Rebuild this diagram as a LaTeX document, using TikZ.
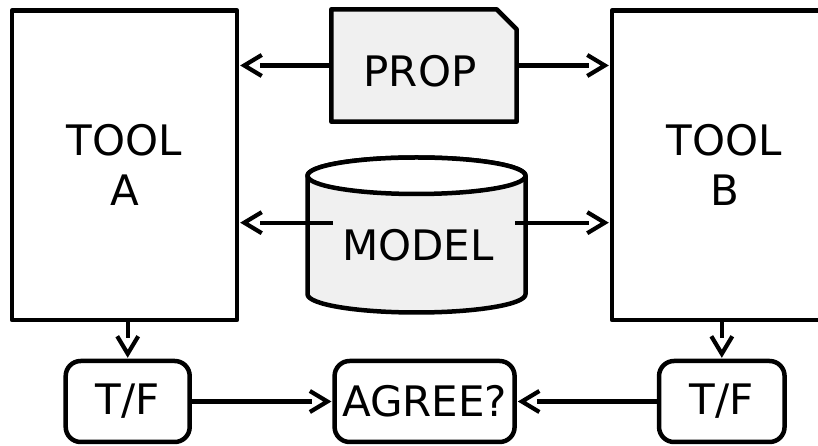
\documentclass[tikz,border=0pt]{standalone}
\usepackage{fontspec}
\setmainfont{DejaVu Sans}
\usetikzlibrary{arrows.meta}
\definecolor{lightfill}{RGB}{240,240,240}

% open V head whose shaft stops at the back of the V
\pgfdeclarearrow{
  name=OpenVee,
  parameters={},
  setup code={
    \pgfarrowssettipend{0pt}
    \pgfarrowssetlineend{-19pt}
    \pgfarrowssetbackend{-21pt}
    \pgfarrowshullpoint{0pt}{0pt}
    \pgfarrowshullpoint{-21pt}{11pt}
    \pgfarrowshullpoint{-21pt}{-11pt}
  },
  drawing code={
    \pgfsetdash{}{0pt}
    \pgfsetbuttcap
    \pgfsetmiterjoin
    \pgfpathmoveto{\pgfpoint{-21pt}{10.5pt}}
    \pgfpathlineto{\pgfpoint{-3.5pt}{0pt}}
    \pgfpathlineto{\pgfpoint{-21pt}{-10.5pt}}
    \pgfusepathqstroke
  }
}

\begin{document}
\begin{tikzpicture}[x=1pt,y=1pt,
  every node/.style={font=\fontsize{42}{50}\selectfont, inner sep=0pt},
  outline/.style={line width=4.5pt, line join=round},
  toolbox/.style={outline, draw, rectangle, minimum width=225pt, minimum height=309.5pt, align=center},
  flagbox/.style={outline, draw, rectangle, rounded corners=15pt, minimum height=81pt},
  link/.style={line width=4.2pt, -{OpenVee}}]
\useasboundingbox (0,0) rectangle (818,446);
\clip (0,0) rectangle (818,446);

% the two tools
\node[toolbox] (toolA) at (124.5,280.75) {TOOL\\A};
\node[toolbox] (toolB) at (724.5,280.75) {TOOL\\B};

% property document with folded corner
\node[minimum width=185pt, minimum height=112pt] (prop) at (424,380.5) {};
\filldraw[outline, fill=lightfill]
  (prop.south west) -- (prop.north west) -- ([xshift=-20pt]prop.north east)
  -- ([yshift=-20pt]prop.north east) -- (prop.south east) -- cycle;
\node (proplabel) at (420,375) {PROP};

% model database
\filldraw[outline, fill=lightfill]
  (307.5,270.25) -- (307.5,151.75)
  arc[start angle=180, end angle=360, x radius=109, y radius=18.25]
  -- (525.5,270.25)
  arc[start angle=0, end angle=180, x radius=109, y radius=18.25] -- cycle;
\filldraw[outline, fill=white] (416.5,270.25) ellipse[x radius=109, y radius=18.25];
\node (model) at (418,200.3) {MODEL};
\coordinate (modelL) at (333,223.3);
\coordinate (modelR) at (515,223.3);

% verdicts
\node[flagbox, minimum width=124pt] (tf1) at (127.7,44.5) {T/F};
\node[flagbox, minimum width=180pt] (agree) at (424.6,44.5) {AGREE?};
\node[flagbox, minimum width=125.5pt] (tf2) at (721.8,44.5) {T/F};

% connectors
\draw[link] (prop.west) -- ([xshift=1.5pt]prop.west -| toolA.east);
\draw[link] (prop.east) -- ([xshift=-1.5pt]prop.east -| toolB.west);
\draw[link] (modelL) -- ([xshift=1.5pt]modelL -| toolA.east);
\draw[link] (modelR) -- ([xshift=-1.5pt]modelR -| toolB.west);
\draw[link] (tf1.north |- toolA.south) -- ([yshift=1.5pt]tf1.north);
\draw[link] (tf2.north |- toolB.south) -- ([yshift=1.5pt]tf2.north);
\draw[link] (tf1.east) -- ([xshift=-1.5pt]agree.west);
\draw[link] (tf2.west) -- ([xshift=1.5pt]agree.east);
\end{tikzpicture}
\end{document}
